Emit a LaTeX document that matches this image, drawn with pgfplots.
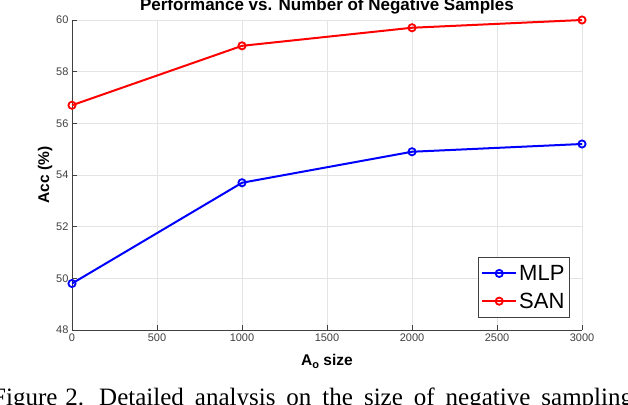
\documentclass[border=0pt]{standalone}
\usepackage{pgfplots}
\pgfplotsset{compat=1.18}
\usepackage{fontspec}
\setmainfont{Liberation Sans}
\newfontfamily\capfont{Liberation Serif}

\definecolor{axgray}{RGB}{64,64,64}
\definecolor{gridgray}{RGB}{228,228,228}
\definecolor{mblue}{RGB}{0,0,255}
\definecolor{mred}{RGB}{255,0,0}

\begin{document}
\begin{tikzpicture}
    \begin{axis}[
        scale only axis,
        width=510pt, height=310pt,
        xmin=0, xmax=3000,
        ymin=48, ymax=60,
        xtick={0,500,...,3000},
        ytick={48,50,...,60},
        axis x line*=bottom,
        axis y line*=left,
        axis line style={axgray, line width=0.6pt, -},
        tick style={axgray, line width=0.6pt},
        major tick length=5pt,
        tick align=inside,
        grid=major,
        grid style={gridgray, line width=0.6pt},
        tick label style={font=\fontsize{11}{12}\selectfont, text=axgray},
        /pgf/number format/assume math mode=true,
        /pgf/number format/1000 sep={},
        title={\textbf{Performance vs. Number of Negative Samples}},
        title style={font=\fontsize{17}{19}\selectfont, at={(axis description cs:0.5,1.01)}, anchor=base, yshift=0pt},
        xlabel={\textbf{A\raisebox{-0.45ex}{\fontsize{11}{12}\selectfont o} size}},
        ylabel={\textbf{Acc (\%)}},
        xlabel style={font=\fontsize{15.5}{17}\selectfont, at={(axis description cs:0.5,-0.113)}, anchor=base, yshift=0pt},
        ylabel style={font=\fontsize{15.5}{17}\selectfont, at={(axis description cs:-0.045,0.5)}, anchor=base},
        legend style={at={(axis description cs:0.976,0.039)}, anchor=south east,
            draw=axgray, line width=0.6pt, font=\fontsize{22}{24}\selectfont,
            inner xsep=3pt, inner ysep=6pt, row sep=7pt},
        legend cell align=left,
        legend image code/.code={%
            \draw[#1, mark repeat=2, mark phase=2] plot coordinates {(0pt,0pt) (17pt,0pt) (34pt,0pt)};},
    ]
    \addplot[mblue, line width=2pt, mark=o, mark size=3.6pt, mark options={line width=1.8pt}]
        coordinates {(0,49.8) (1000,53.7) (2000,54.9) (3000,55.2)};
    \addlegendentry{MLP}
    \addplot[mred, line width=2pt, mark=o, mark size=3.6pt, mark options={line width=1.8pt}]
        coordinates {(0,56.7) (1000,59.0) (2000,59.7) (3000,60.0)};
    \addlegendentry{SAN}
    \end{axis}
    % caption of the figure, cut off by the page edge as in the source
    \node[anchor=base west, inner sep=0pt, font=\capfont\fontsize{25}{28}\selectfont] at (-80pt,-75.5pt)
        {Figure\hspace{8pt}2.\hspace{15pt}Detailed\hspace{11pt}analysis\hspace{11pt}on\hspace{11pt}the\hspace{11pt}size\hspace{11pt}of\hspace{11pt}negative\hspace{11pt}sampling};
    \pgfresetboundingbox
    \path[use as bounding box] (-72pt,-74pt) rectangle (556pt,330pt);
\end{tikzpicture}
\end{document}
